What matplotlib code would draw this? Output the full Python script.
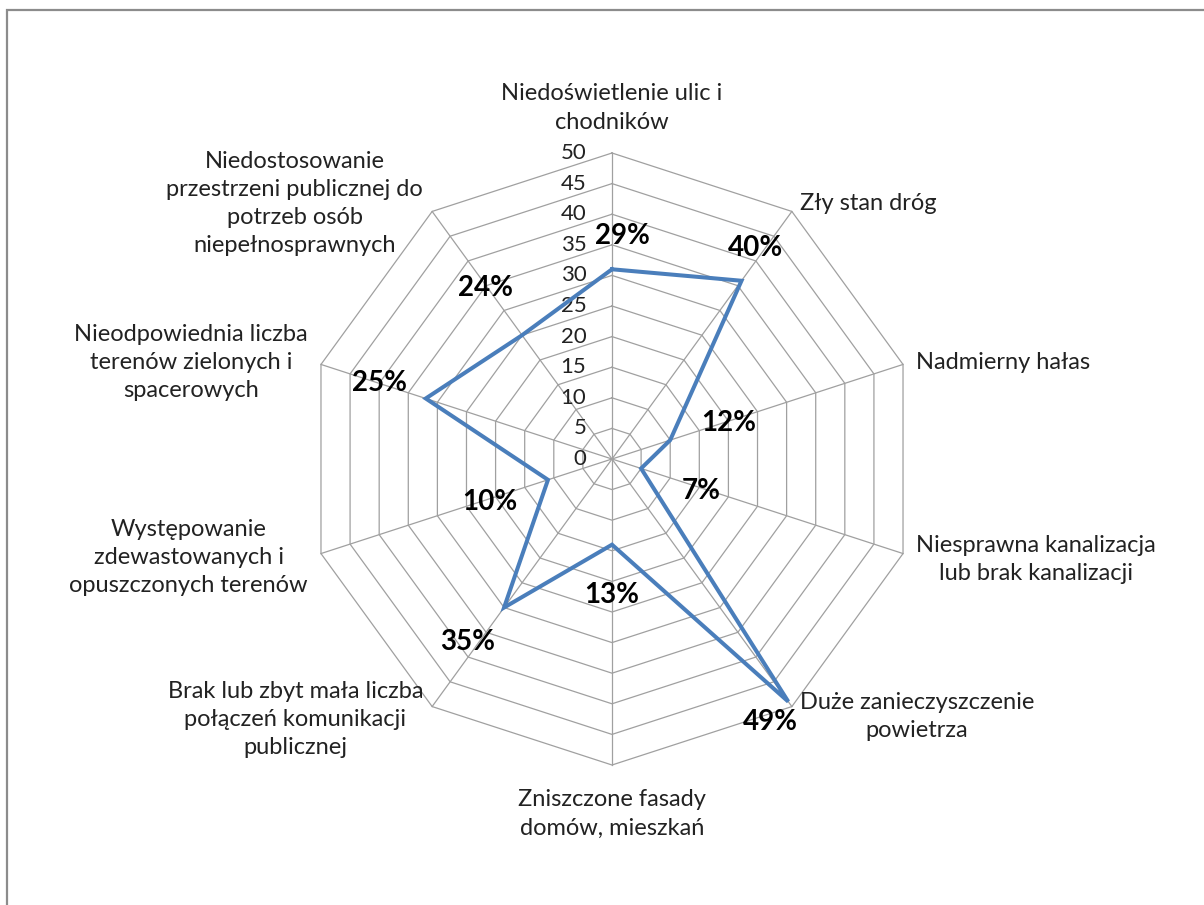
import numpy as np
import matplotlib
matplotlib.use("Agg")
import matplotlib.pyplot as plt
from matplotlib.patches import Rectangle

# categories, clockwise from the top
categories = [
    "Niedoświetlenie ulic i\nchodników",
    "Zły stan dróg",
    "Nadmierny hałas",
    "Niesprawna kanalizacja\nlub brak kanalizacji",
    "Duże zanieczyszczenie\npowietrza",
    "Zniszczone fasady\ndomów, mieszkań",
    "Brak lub zbyt mała liczba\npołączeń komunikacji\npublicznej",
    "Występowanie\nzdewastowanych i\nopuszczonych terenów",
    "Nieodpowiednia liczba\nterenów zielonych i\nspacerowych",
    "Niedostosowanie\nprzestrzeni publicznej do\npotrzeb osób\nniepełnosprawnych",
]
values = [31, 36, 10, 5, 49, 14, 30, 11, 32, 25]
pct_labels = ["29%", "40%", "12%", "7%", "49%", "13%", "35%", "10%", "25%", "24%"]
rticks = [0, 5, 10, 15, 20, 25, 30, 35, 40, 45, 50]

# layout of the labels (not data)
pct_pos = [(2.8, 36.5), (34.3, 41.7), (72.8, 19.9), (109.8, 15.5), (149, 50.1),
           (180, 22.2), (218.2, 38.1), (250.6, 21.1), (288.1, 39.9), (323.4, 34.8)]
cat_off = [(0, 45, "center"), (8, 8, "left"), (13, 2, "left"), (13, -6, "left"),
           (8, -10, "left"), (0, -49, "center"), (-9, -13, "right"),
           (-13, -4, "right"), (-13, 2, "right"), (-9, 8, "right")]

plt.rcParams['font.family'] = ['Lato', 'DejaVu Sans']

W, H = 1204, 905
cx, cy = 612, 459
s = 6.12  # pixels per unit
fig = plt.figure(figsize=(W / 100, H / 100), dpi=100)
ax = fig.add_axes([0, 0, 1, 1])
ax.set_xlim(-cx / s, (W - cx) / s)
ax.set_ylim(-(H - cy) / s, cy / s)
ax.axis('off')

n = len(categories)
ang = np.deg2rad(np.arange(n) * 360.0 / n)
grid_c = '#a0a0a0'

# decagon rings
for r in rticks[1:]:
    xs = r * np.sin(np.append(ang, ang[0]))
    ys = r * np.cos(np.append(ang, ang[0]))
    ax.plot(xs, ys, color=grid_c, lw=0.9, zorder=1)
# spokes
rmax = rticks[-1]
for a in ang:
    ax.plot([0, rmax * np.sin(a)], [0, rmax * np.cos(a)], color=grid_c, lw=0.9, zorder=1)

# radial tick labels
for r in rticks:
    ax.text(-4.2, r, str(r), ha='right', va='center', fontsize=16, color='#222222')

# data line
v = np.array(values + values[:1], dtype=float)
a2 = np.append(ang, ang[0])
ax.plot(v * np.sin(a2), v * np.cos(a2), color='#4a7ebb', lw=2.9, zorder=3,
        solid_joinstyle='miter')

# percentage labels
for lab, (dg, r) in zip(pct_labels, pct_pos):
    t = np.deg2rad(dg)
    ax.text(r * np.sin(t), r * np.cos(t), lab, ha='center', va='center',
            fontsize=20, fontweight='bold', color='black', zorder=4)

# category labels
for lab, a, (dx, dy, ha) in zip(categories, ang, cat_off):
    ax.annotate(lab, xy=(rmax * np.sin(a), rmax * np.cos(a)),
                xytext=(dx * 0.72, dy * 0.72), textcoords='offset points',
                ha=ha, va='center', multialignment='center', fontsize=17,
                color='#222222', linespacing=1.42)

# chart frame
fig.patches.append(Rectangle((7 / W, -0.05), 1.1, 1 - 10 / H + 0.05,
                             transform=fig.transFigure, fill=False,
                             edgecolor='#8c8c8c', lw=1.6))

fig.savefig('out.png', dpi=100)
